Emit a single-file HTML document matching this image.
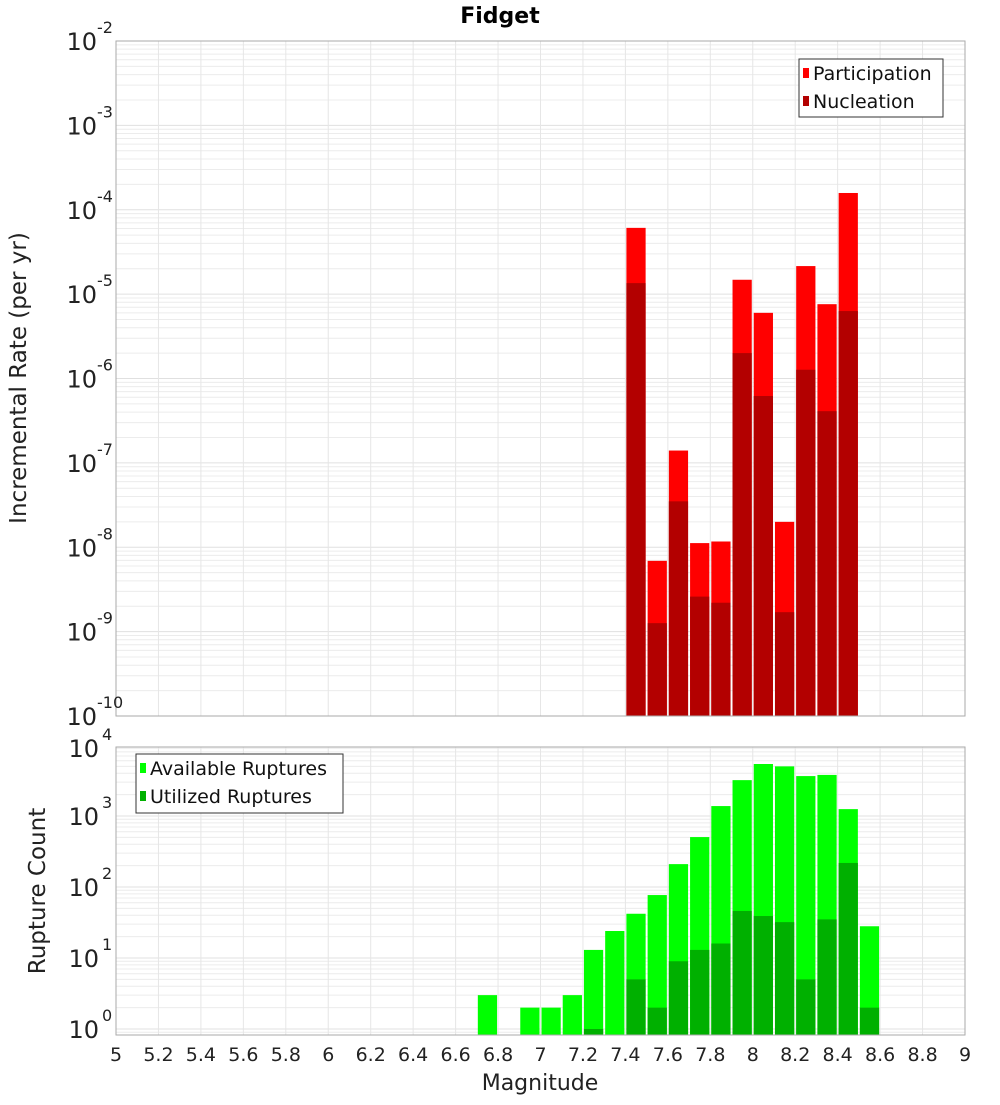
<!DOCTYPE html>
<html><head><meta charset="utf-8"><style>
body{margin:0;background:#fff;width:1000px;height:1100px;overflow:hidden}
svg text{font-family:"DejaVu Sans","Liberation Sans",sans-serif}
</style></head><body>
<svg id="c" width="1000" height="1100" xmlns="http://www.w3.org/2000/svg"></svg>
<script>
const mags = [6.7,6.8,6.9,7.0,7.1,7.2,7.3,7.4,7.5,7.6,7.7,7.8,7.9,8.0,8.1,8.2,8.3,8.4,8.5];
const participation = [0,0,0,0,0,0,0,6.1e-5,6.9e-9,1.4e-7,1.12e-8,1.17e-8,1.48e-5,6.0e-6,2.0e-8,2.15e-5,7.6e-6,1.58e-4,0];
const nucleation = [0,0,0,0,0,0,0,1.35e-5,1.26e-9,3.5e-8,2.6e-9,2.2e-9,2.0e-6,6.2e-7,1.7e-9,1.27e-6,4.1e-7,6.3e-6,0];
const available = [3,0,2,2,3,13,24,42,77,210,505,1380,3200,5400,5000,3650,3790,1250,28];
const utilized = [0,0,0,0,0,1,0,5,2,9,13,16,46,39,32,5,35,218,2];
const xTicks = [5,5.2,5.4,5.6,5.8,6,6.2,6.4,6.6,6.8,7,7.2,7.4,7.6,7.8,8,8.2,8.4,8.6,8.8,9];
const topExps = [-2,-3,-4,-5,-6,-7,-8,-9,-10];
const botExps = [0,1,2,3,4];

const NS="http://www.w3.org/2000/svg", svg=document.getElementById('c');
function el(t,a,p){const e=document.createElementNS(NS,t);for(const k in a)e.setAttribute(k,a[k]);(p||svg).appendChild(e);return e;}
const X0=116,X1=965;
const xs=m=>X0+(m-5)/4*(X1-X0);
const T0=41,T1=716; const yt=v=>T0+(-2-Math.log10(v))*(T1-T0)/8;
const B0=747,B1=1035; const yb=v=>1029-Math.log10(v)*71;

function grid(top,bot,yfun,minExp,maxExp,name){
  const g=el('g',{});  
  for(let e=minExp;e<=maxExp;e++)for(let k=1;k<10;k++){const y=yfun(k*Math.pow(10,e));if(y<top||y>bot)continue;
    el('line',{x1:X0,x2:X1,y1:y,y2:y,stroke:k==1?'#e0e0e0':'#ececec','stroke-width':1},g);}
  for(const t of xTicks){const x=xs(t);el('line',{x1:x,x2:x,y1:top,y2:bot,stroke:'#e6e6e6','stroke-width':1},g);}
}
grid(T0,T1,yt,-10,-2,'top-grid');
grid(B0,B1,yb,-1,4,'bottom-grid');

const bw=(X1-X0)/40;
mags.forEach((m,i)=>{
  const x=xs(m)+1,w=bw-2;
  if(participation[i]>0){const r=el('rect',{x:x,y:yt(participation[i]),width:w,height:T1-yt(participation[i]),fill:'#ff0000'});
    }
  if(nucleation[i]>0){const r=el('rect',{x:x,y:yt(nucleation[i]),width:w,height:T1-yt(nucleation[i]),fill:'#b30000'});
    }
  if(available[i]>0){const y=Math.max(B0,yb(available[i]));const r=el('rect',{x:x,y:y,width:w,height:B1-y,fill:'#00ff00'});
    }
  if(utilized[i]>0){const y=Math.max(B0,yb(utilized[i]));const r=el('rect',{x:x,y:y,width:w,height:B1-y,fill:'#00b000'});
    }
});

el('rect',{x:X0,y:T0,width:X1-X0,height:T1-T0,fill:'none',stroke:'#aaa'});
el('rect',{x:X0,y:B0,width:X1-X0,height:B1-B0,fill:'none',stroke:'#aaa'});

topExps.forEach(e=>{const y=yt(Math.pow(10,e));
  const t=el('text',{x:97,y:y+9,'font-size':24,'text-anchor':'end',fill:'#222'});
  
  t.textContent='10';
  const s=el('text',{x:97,y:y-8,'font-size':16,fill:'#222'});
  
  s.textContent=String(e);
});
botExps.forEach(e=>{let y=yb(Math.pow(10,e)); if(y<748) y=748;
  const t=el('text',{x:99,y:y+9,'font-size':24,'text-anchor':'end',fill:'#222'});
  
  t.textContent='10';
  const s=el('text',{x:102,y:y-8,'font-size':16,fill:'#222'});
  
  s.textContent=String(e);
});
xTicks.forEach(v=>{const t=el('text',{x:xs(v),y:1061,'font-size':19,'text-anchor':'middle',fill:'#222'});
  
  t.textContent=String(v);});

let t=el('text',{x:500,y:23,'font-size':22,'font-weight':'bold','text-anchor':'middle'});
t.textContent='Fidget';
t=el('text',{x:540,y:1090,'font-size':22,'text-anchor':'middle',fill:'#222'});
t.textContent='Magnitude';
t=el('text',{x:26,y:378,'font-size':23,'text-anchor':'middle',fill:'#222',transform:'rotate(-90 26 378)'});
t.textContent='Incremental Rate (per yr)';
t=el('text',{x:45,y:891,'font-size':23,'text-anchor':'middle',fill:'#222',transform:'rotate(-90 45 891)'});
t.textContent='Rupture Count';

function legend(x,y,w,h,items,name){
  const g=el('g',{});
  el('rect',{x:x,y:y,width:w,height:h,fill:'#fff',stroke:'#333'},g);
  items.forEach((it,i)=>{const cy=y+14+i*28;
    el('rect',{x:x+4,y:cy-5,width:6,height:10,fill:it[1]},g);
    const tt=el('text',{x:x+14,y:cy+7,'font-size':19,fill:'#111'},g);tt.textContent=it[0];});
}
legend(799,59,144,58,[['Participation','#ff0000'],['Nucleation','#b30000']],'top-legend');
legend(136,754,207,59,[['Available Ruptures','#00ff00'],['Utilized Ruptures','#00b000']],'bottom-legend');
</script>
</body></html>
